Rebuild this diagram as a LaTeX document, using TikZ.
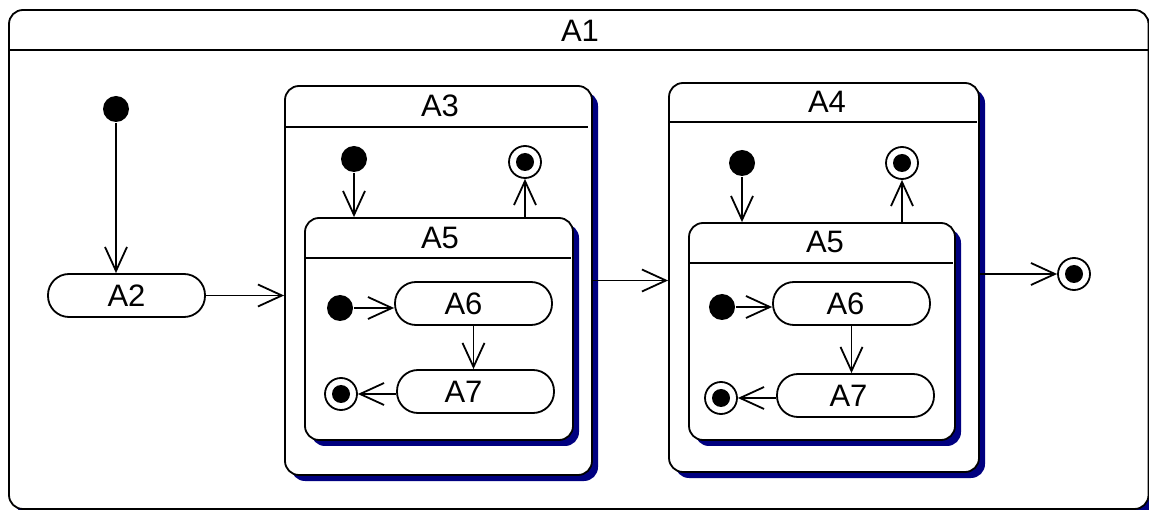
\documentclass[tikz,border=0pt]{standalone}
\usepackage{fontspec}
\setmainfont{Liberation Sans}
\usetikzlibrary{arrows.meta,shadows}
\definecolor{shadowblue}{RGB}{0,0,128}
\tikzset{
  every picture/.style={line width=1.8pt},
  boxshadow/.style={general shadow={fill=shadowblue, shadow xshift=6pt, shadow yshift=-6pt}},
  compbox/.style={draw, fill=white, rounded corners=14pt, inner sep=0pt},
  statebox/.style={draw, fill=white, rounded corners=21pt, minimum width=157pt, minimum height=43pt, inner sep=0pt, font=\fontsize{31}{35}\selectfont},
  lbl/.style={inner sep=0pt, font=\fontsize{31}{35}\selectfont},
  initst/.style={circle, fill=black, minimum size=26pt, inner sep=0pt},
  finalst/.style={circle, draw, fill=white, minimum size=32pt, inner sep=0pt,
    path picture={\fill[black] (path picture bounding box.center) circle (9pt);}},
  arr/.style={-{Straight Barb[length=24pt, width=22pt]}},
}
\begin{document}
\begin{tikzpicture}[x=1pt, y=-1pt]
\useasboundingbox (0,0) rectangle (1149,510);
% outer state A1
\node[compbox, boxshadow, minimum width=1139.5pt, minimum height=499pt] (A1) at (578.75,259.5) {};
\draw (A1.west |- 0,50) -- (A1.east |- 0,50);
\node[lbl] (A1t) at (580,31) {A1};
% A3
\node[compbox, boxshadow, minimum width=307pt, minimum height=389pt] (A3) at (438.5,280.5) {};
\draw (A3.west |- 0,127) -- ([xshift=-5pt]A3.east |- 0,127);
\node[lbl] (A3t) at (440,106) {A3};
% A4
\node[compbox, boxshadow, minimum width=310pt, minimum height=389pt] (A4) at (824,277.5) {};
\draw (A4.west |- 0,122) -- ([xshift=-3pt]A4.east |- 0,122);
\node[lbl] (A4t) at (827,102) {A4};
% A5 inside A3
\node[compbox, boxshadow, minimum width=268pt, minimum height=222pt] (A5a) at (439,329) {};
\draw (A5a.west |- 0,258) -- ([xshift=-3pt]A5a.east |- 0,258);
\node[lbl] (A5at) at (440,238) {A5};
% A5 inside A4
\node[compbox, boxshadow, minimum width=266pt, minimum height=217pt] (A5b) at (822,331.5) {};
\draw (A5b.west |- 0,263) -- ([xshift=-3pt]A5b.east |- 0,263);
\node[lbl] (A5bt) at (825,242) {A5};
% simple states
\node[statebox] (A2) at (126.5,295.5) {A2};
\node[statebox] (A6a) at (473.5,303.5) {\hspace*{-20pt}A6};
\node[statebox] (A7a) at (475.5,391.5) {\hspace*{-24pt}A7};
\node[statebox] (A6b) at (851.5,303.5) {\hspace*{-12pt}A6};
\node[statebox] (A7b) at (855.5,395.5) {\hspace*{-14pt}A7};
% initial pseudostates
\node[initst] (I0) at (116,109) {};
\node[initst] (I3) at (354,159) {};
\node[initst] (I5a) at (340,308) {};
\node[initst] (I4) at (742,163) {};
\node[initst] (I5b) at (722,307) {};
% final states
\node[finalst] (F3) at (525,162) {};
\node[finalst] (F5a) at (341,394) {};
\node[finalst] (F4) at (902,163) {};
\node[finalst] (F5b) at (721,398) {};
\node[finalst] (F1) at (1074,274) {};
% transitions
\draw[arr] (I0) -- (I0 |- A2.north);
\draw[arr] (A2.east) -- (A2.east -| A3.west);
\draw[arr] (I3) -- (I3 |- A5a.north);
\draw[arr] (F3 |- A5a.north) -- (F3);
\draw[arr] (I5a) -- (I5a -| A6a.west);
\draw[arr] (A6a.south) -- (A6a.south |- A7a.north);
\draw[arr] (F5a -| A7a.west) -- (F5a);
\draw[arr] (A3.east) -- (A3.east -| A4.west);
\draw[arr] (I4) -- (I4 |- A5b.north);
\draw[arr] (F4 |- A5b.north) -- (F4);
\draw[arr] (I5b) -- (I5b -| A6b.west);
\draw[arr] (A6b.south) -- (A6b.south |- A7b.north);
\draw[arr] (F5b -| A7b.west) -- (F5b);
\draw[arr] (F1 -| A4.east) -- (F1);
\end{tikzpicture}
\end{document}
